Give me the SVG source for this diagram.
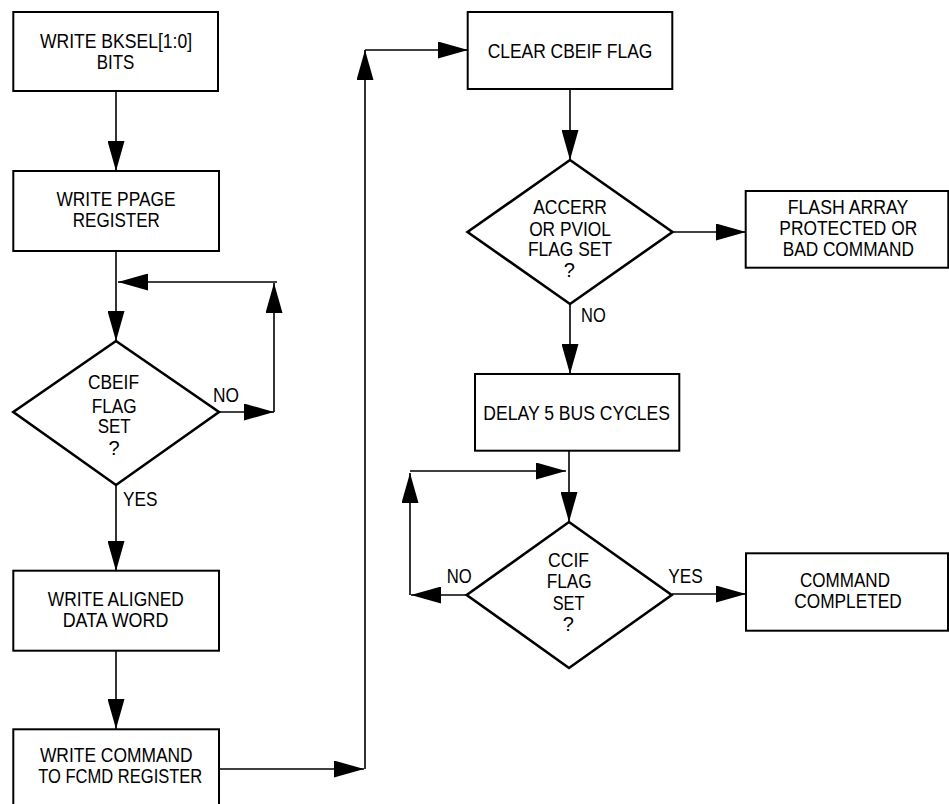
<svg xmlns="http://www.w3.org/2000/svg" width="949" height="804" viewBox="0 0 949 804">
<style>
  .box{fill:#fff;stroke:#000;stroke-width:2}
  .dia{fill:#fff;stroke:#000;stroke-width:2.6;stroke-linejoin:miter}
  .t{font-family:"Liberation Sans",Arial,Helvetica,sans-serif;font-size:20px;fill:#000;text-anchor:middle}
  .l{font-family:"Liberation Sans",Arial,Helvetica,sans-serif;font-size:20px;fill:#000;text-anchor:start}
  .c{fill:none;stroke:#000;stroke-width:1.6}
</style>
<defs>
  <marker id="ah" markerUnits="userSpaceOnUse" markerWidth="30" markerHeight="17" refX="30" refY="8.5" orient="auto" viewBox="0 0 30 17">
    <path d="M0,0 L30,8.5 L0,17 Z" fill="#000"/>
  </marker>
</defs>
<rect width="949" height="804" fill="#fff"/>
<g id="connectors">
  <path class="c" d="M116,91 L116,171" marker-end="url(#ah)"/>
  <path class="c" d="M116,251 L116,341" marker-end="url(#ah)"/>
  <path class="c" d="M219,412 L274,412" marker-end="url(#ah)"/>
  <path class="c" d="M274,412 L274,283" marker-end="url(#ah)"/>
  <path class="c" d="M277,282 L118,282" marker-end="url(#ah)"/>
  <path class="c" d="M116,485 L116,571" marker-end="url(#ah)"/>
  <path class="c" d="M116,651 L116,729" marker-end="url(#ah)"/>
  <path class="c" d="M219,769 L364,769" marker-end="url(#ah)"/>
  <path class="c" d="M365,769 L365,50" marker-end="url(#ah)"/>
  <path class="c" d="M365,50 L468,50" marker-end="url(#ah)"/>
  <path class="c" d="M570,89 L570,160" marker-end="url(#ah)"/>
  <path class="c" d="M672,232 L746,232" marker-end="url(#ah)"/>
  <path class="c" d="M570,304 L570,374" marker-end="url(#ah)"/>
  <path class="c" d="M569,451 L569,522" marker-end="url(#ah)"/>
  <path class="c" d="M467,595 L411,595" marker-end="url(#ah)"/>
  <path class="c" d="M410,595 L410,473" marker-end="url(#ah)"/>
  <path class="c" d="M410,471 L566,471" marker-end="url(#ah)"/>
  <path class="c" d="M672,594 L746,594" marker-end="url(#ah)"/>
</g>
<g id="n1">
  <rect class="box" x="13.3" y="12" width="204.7" height="79"/>
  <text class="t" x="116" y="48" textLength="152" lengthAdjust="spacingAndGlyphs">WRITE BKSEL[1:0]</text>
  <text class="t" x="115.5" y="68.5" textLength="37.6" lengthAdjust="spacingAndGlyphs">BITS</text>
</g>
<g id="n2">
  <rect class="box" x="13.3" y="171" width="205.7" height="80"/>
  <text class="t" x="116" y="206" textLength="119" lengthAdjust="spacingAndGlyphs">WRITE PPAGE</text>
  <text class="t" x="116.3" y="227" textLength="87" lengthAdjust="spacingAndGlyphs">REGISTER</text>
</g>
<g id="d1">
  <polygon class="dia" points="116,341 219,412 116,485 13.3,412"/>
  <text class="t" x="113.5" y="389" textLength="51" lengthAdjust="spacingAndGlyphs">CBEIF</text>
  <text class="t" x="114.2" y="412.7" textLength="45" lengthAdjust="spacingAndGlyphs">FLAG</text>
  <text class="t" x="114.2" y="433" textLength="33" lengthAdjust="spacingAndGlyphs">SET</text>
  <text class="t" x="114" y="455">?</text>
  <text class="l" x="213" y="402" textLength="26" lengthAdjust="spacingAndGlyphs">NO</text>
  <text class="l" x="123" y="506" textLength="34.4" lengthAdjust="spacingAndGlyphs">YES</text>
</g>
<g id="n3">
  <rect class="box" x="13.3" y="570.7" width="205.7" height="80"/>
  <text class="t" x="115.8" y="606" textLength="136" lengthAdjust="spacingAndGlyphs">WRITE ALIGNED</text>
  <text class="t" x="115.5" y="626.7" textLength="105.7" lengthAdjust="spacingAndGlyphs">DATA WORD</text>
</g>
<g id="n4">
  <rect class="box" x="13.3" y="729.3" width="205.7" height="80"/>
  <text class="t" x="116.3" y="762.3" textLength="152.7" lengthAdjust="spacingAndGlyphs">WRITE COMMAND</text>
  <text class="t" x="120.3" y="783.3" textLength="164" lengthAdjust="spacingAndGlyphs">TO FCMD REGISTER</text>
</g>
<g id="n5">
  <rect class="box" x="467.7" y="12" width="204.6" height="77"/>
  <text class="t" x="570" y="58.3" textLength="164.7" lengthAdjust="spacingAndGlyphs">CLEAR CBEIF FLAG</text>
</g>
<g id="d2">
  <polygon class="dia" points="570,160 672.5,232 570,304 467.5,232"/>
  <text class="t" x="570" y="214.3" textLength="73.7" lengthAdjust="spacingAndGlyphs">ACCERR</text>
  <text class="t" x="570" y="235.7" textLength="81.7" lengthAdjust="spacingAndGlyphs">OR PVIOL</text>
  <text class="t" x="570" y="256" textLength="84" lengthAdjust="spacingAndGlyphs">FLAG SET</text>
  <text class="t" x="569.3" y="277.3">?</text>
  <text class="l" x="581" y="321.7" textLength="24.7" lengthAdjust="spacingAndGlyphs">NO</text>
</g>
<g id="n6">
  <rect class="box" x="745.7" y="191" width="202.6" height="76.7"/>
  <text class="t" x="848" y="214" textLength="120.6" lengthAdjust="spacingAndGlyphs">FLASH ARRAY</text>
  <text class="t" x="848.3" y="235" textLength="138" lengthAdjust="spacingAndGlyphs">PROTECTED OR</text>
  <text class="t" x="848.3" y="255.7" textLength="131.3" lengthAdjust="spacingAndGlyphs">BAD COMMAND</text>
</g>
<g id="n7">
  <rect class="box" x="475" y="374" width="204.3" height="76.7"/>
  <text class="t" x="576.7" y="420" textLength="186.7" lengthAdjust="spacingAndGlyphs">DELAY 5 BUS CYCLES</text>
</g>
<g id="d3">
  <polygon class="dia" points="569,522 671.7,595 569,668 466.7,595"/>
  <text class="t" x="568.5" y="567.3" textLength="41" lengthAdjust="spacingAndGlyphs">CCIF</text>
  <text class="t" x="569.2" y="588.3" textLength="45" lengthAdjust="spacingAndGlyphs">FLAG</text>
  <text class="t" x="568.5" y="610" textLength="31.7" lengthAdjust="spacingAndGlyphs">SET</text>
  <text class="t" x="568.3" y="630.7">?</text>
  <text class="l" x="446.7" y="582.7" textLength="25" lengthAdjust="spacingAndGlyphs">NO</text>
  <text class="l" x="668.3" y="582.7" textLength="34.4" lengthAdjust="spacingAndGlyphs">YES</text>
</g>
<g id="n8">
  <rect class="box" x="746" y="553.3" width="202" height="77.4"/>
  <text class="t" x="845" y="586.7" textLength="90" lengthAdjust="spacingAndGlyphs">COMMAND</text>
  <text class="t" x="848" y="607.7" textLength="107.3" lengthAdjust="spacingAndGlyphs">COMPLETED</text>
</g>
</svg>
